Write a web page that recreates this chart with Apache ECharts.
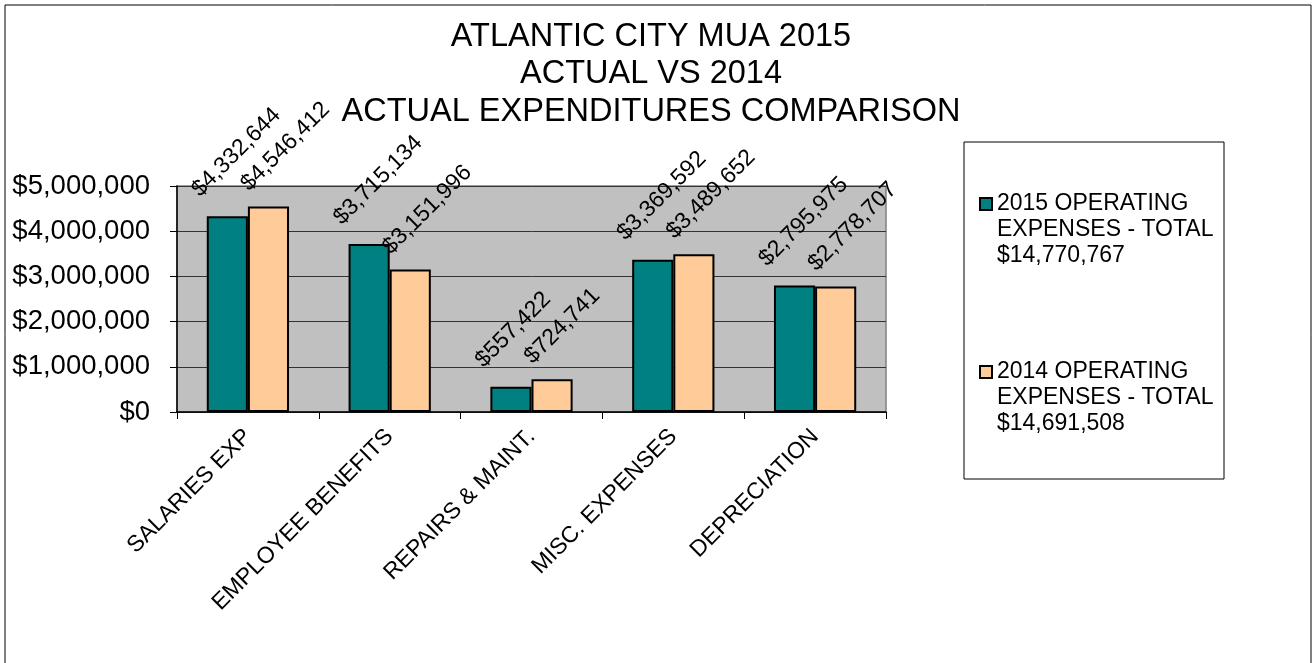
<!DOCTYPE html>
<html>
<head>
<meta charset="utf-8">
<script src="https://cdn.jsdelivr.net/npm/echarts@6/dist/echarts.min.js"></script>
<style>
html,body{margin:0;padding:0;background:#fff;}
#chart{width:1316px;height:663px;}
</style>
</head>
<body>
<div id="chart"></div>
<script>
const categories = ['SALARIES EXP', 'EMPLOYEE BENEFITS', 'REPAIRS & MAINT.', 'MISC. EXPENSES', 'DEPRECIATION'];
const values2015 = [4332644, 3715134, 557422, 3369592, 2795975];
const values2014 = [4546412, 3151996, 724741, 3489652, 2778707];
const seriesNames = [
  '2015 OPERATING\nEXPENSES - TOTAL\n$14,770,767',
  '2014 OPERATING\nEXPENSES - TOTAL\n$14,691,508'
];
const seriesColors = ['#008080', '#FFCC99'];
const titleLines = ['ATLANTIC CITY MUA 2015', 'ACTUAL VS 2014', 'ACTUAL EXPENDITURES COMPARISON'];
const yMin = 0, yMax = 5000000, yStep = 1000000;

const FONT = "'Liberation Sans', Arial, sans-serif";
const money = v => '$' + Math.round(v).toLocaleString('en-US');

const chart = echarts.init(document.getElementById('chart'), null, {renderer: 'canvas'});

function makeSeries(i, data, labelPos) {
  return {
    name: seriesNames[i],
    type: 'bar',
    data: data,
    barGap: '0%',
    barCategoryGap: '42%',
    itemStyle: {color: seriesColors[i], borderColor: '#000', borderWidth: 2},
    label: {
      show: true,
      position: labelPos,
      rotate: 45,
      align: 'left',
      verticalAlign: 'bottom',
      color: '#000',
      fontFamily: FONT,
      fontSize: 23,
      formatter: p => money(p.value)
    },
    emphasis: {disabled: true}
  };
}

chart.setOption({
  animation: false,
  backgroundColor: '#fff',
  title: {
    text: titleLines.join('\n'),
    left: 651,
    top: 18,
    padding: 0,
    textAlign: 'center',
    textStyle: {fontFamily: FONT, fontSize: 32.5, fontWeight: 'normal', color: '#000', lineHeight: 37.5}
  },
  legend: {
    orient: 'vertical',
    left: 979,
    top: 139,
    padding: 0,
    itemWidth: 12,
    itemHeight: 12,
    itemGap: 38,
    icon: 'rect',
    selectedMode: false,
    formatter: name => '\n\n' + name,
    textStyle: {fontFamily: FONT, fontSize: 23, lineHeight: 26, color: '#000'},
    data: seriesNames
  },
  graphic: [
    {type: 'rect', z: -1, shape: {x: 5, y: 5, width: 1306, height: 700}, style: {fill: 'none', stroke: '#000', lineWidth: 1}},
    {type: 'rect', z: -1, shape: {x: 964, y: 142, width: 260, height: 337}, style: {fill: '#fff', stroke: '#000', lineWidth: 1}}
  ],
  grid: {
    left: 177, right: 430, top: 186, bottom: 251,
    show: true, backgroundColor: '#C0C0C0', borderColor: '#808080', borderWidth: 1.5
  },
  xAxis: {
    type: 'category',
    data: categories,
    axisLine: {lineStyle: {color: '#000', width: 1.5}},
    axisTick: {show: true, length: 7, lineStyle: {color: '#000'}},
    axisLabel: {rotate: 45, interval: 0, margin: 21, color: '#000', fontFamily: FONT, fontSize: 23}
  },
  yAxis: {
    type: 'value',
    min: yMin, max: yMax, interval: yStep,
    axisLine: {show: true, lineStyle: {color: '#000', width: 1.5}},
    axisTick: {show: true, length: 7, lineStyle: {color: '#000'}},
    splitLine: {show: true, lineStyle: {color: '#333', width: 1}},
    axisLabel: {margin: 27, color: '#000', fontFamily: FONT, fontSize: 27.5, formatter: v => money(v)}
  },
  series: [
    makeSeries(0, values2015, [-3, -15]),
    makeSeries(1, values2014, [5, -11])
  ]
});
</script>
</body>
</html>
